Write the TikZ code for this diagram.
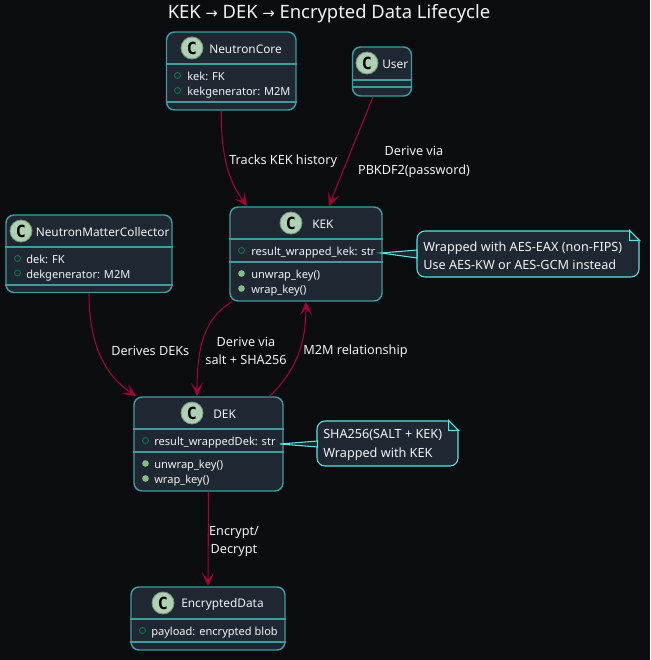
\documentclass[tikz,border=0pt]{standalone}
\usepackage{fontspec}
\setmainfont{Noto Sans}
\newfontfamily\spotfont{DejaVu Sans Mono}
\newfontfamily\arrowfont{DejaVu Sans}
\usetikzlibrary{arrows.meta,calc}
\definecolor{pagebg}{HTML}{0A0C10}
\definecolor{classfill}{HTML}{1F2733}
\definecolor{classline}{HTML}{3D9C9C}
\definecolor{notefill}{HTML}{1F2733}
\definecolor{noteline}{HTML}{5CE6E0}
\definecolor{linkred}{HTML}{A80036}
\definecolor{spotfill}{HTML}{ADD1B2}
\definecolor{fieldgreen}{HTML}{038048}
\definecolor{methodgreen}{HTML}{84BE84}
\definecolor{labeltext}{HTML}{F0F3F6}
\newcommand{\px}{0.75pt}
\newcommand{\rarrow}{{\arrowfont\fontsize{11}{16}\selectfont →}}
\tikzset{
	classbox/.style={draw=classline,fill=classfill,line width=1.1pt,rounded corners=6pt,inner sep=0pt},
	sepline/.style={draw=classline,line width=0.9pt},
	classname/.style={text=labeltext,font=\fontsize{8.9}{12}\selectfont,inner sep=0pt},
	spot/.style={circle,fill=spotfill,draw=spotfill!70!black,line width=0.6pt,minimum size=16.5pt,inner sep=0pt,text=black,font=\spotfont\bfseries\fontsize{12.5}{13}\selectfont},
	member/.style={anchor=base west,text=labeltext,font=\fontsize{8.3}{10}\selectfont,inner sep=0pt},
	fieldmark/.style={circle,draw=fieldgreen,line width=0.6pt,minimum size=4.5pt,inner sep=0pt},
	methodmark/.style={circle,fill=methodgreen,minimum size=5pt,inner sep=0pt},
	link/.style={draw=linkred,line width=0.8pt,-{Stealth[length=10pt,width=9pt,inset=5pt]}},
	linklabel/.style={text=labeltext,align=center,font=\fontsize{9.5}{13.8}\selectfont,inner sep=0pt},
	notebox/.style={draw=noteline,fill=notefill,line width=0.8pt,rounded corners=6pt,inner sep=0pt},
	notetext/.style={anchor=west,inner sep=0pt,align=left,text=labeltext,font=\fontsize{9.5}{13.8}\selectfont},
	noteedge/.style={draw=noteline,fill=notefill,line width=0.8pt}
}
\begin{document}
\begin{tikzpicture}[x=\px,y=-\px]
	\fill[pagebg] (0,0) rectangle (650,660);
	\useasboundingbox (0,0) rectangle (650,660);
	\node[text=labeltext,inner sep=0pt,font=\fontsize{13.8}{16}\selectfont] (title) at (329,13.5) {KEK \rarrow{} DEK \rarrow{} Encrypted Data Lifecycle};

	% class boxes
	\node[classbox,minimum width=129.5*\px,minimum height=78*\px] (core) at (231.25,71) {};
	\node[classbox,minimum width=59*\px,minimum height=49*\px] (user) at (382,71.5) {};
	\node[classbox,minimum width=152*\px,minimum height=94*\px] (kek) at (306,254) {};
	\node[classbox,minimum width=166*\px,minimum height=77.5*\px] (collector) at (89,253.75) {};
	\node[classbox,minimum width=149*\px,minimum height=94*\px] (dek) at (208.5,444) {};
	\node[classbox,minimum width=154*\px,minimum height=63*\px] (data) at (208,618.5) {};

	% compartment lines
	\draw[sepline] (core.west |- 0,64) -- (core.east |- 0,64);
	\draw[sepline] (core.west |- 0,102) -- (core.east |- 0,102);
	\draw[sepline] (user.west |- 0,80) -- (user.east |- 0,80);
	\draw[sepline] (user.west |- 0,87) -- (user.east |- 0,87);
	\draw[sepline] (kek.west |- 0,239) -- (kek.east |- 0,239);
	\draw[sepline] (kek.west |- 0,262) -- (kek.east |- 0,262);
	\draw[sepline] (collector.west |- 0,247) -- (collector.east |- 0,247);
	\draw[sepline] (collector.west |- 0,285) -- (collector.east |- 0,285);
	\draw[sepline] (dek.west |- 0,429) -- (dek.east |- 0,429);
	\draw[sepline] (dek.west |- 0,452) -- (dek.east |- 0,452);
	\draw[sepline] (data.west |- 0,619) -- (data.east |- 0,619);
	\draw[sepline] (data.west |- 0,642) -- (data.east |- 0,642);

	% headers
	\node[spot] (coreC) at (192,48) {C};
	\node[classname,anchor=west] (coreName) at (209,49) {NeutronCore};
	\node[spot] (userC) at (367,63) {C};
	\node[classname,anchor=west] (userName) at (382,64) {User};
	\node[spot] (kekC) at (291,223) {C};
	\node[classname,anchor=west] (kekName) at (312,224) {KEK};
	\node[spot] (collectorC) at (21,231) {C};
	\node[classname,anchor=west] (collectorName) at (35.5,232) {NeutronMatterCollector};
	\node[spot] (dekC) at (192,413) {C};
	\node[classname,anchor=west] (dekName) at (213,414) {DEK};
	\node[spot] (dataC) at (163,603) {C};
	\node[classname,anchor=west] (dataName) at (181,604) {EncryptedData};

	% members
	\node[fieldmark] (coreA) at (177.5,75.5) {};
	\node[member] (coreAtext) at (187,80) {kek: FK};
	\node[fieldmark] (coreB) at (177.5,90.5) {};
	\node[member] (coreBtext) at (187,95) {kekgenerator: M2M};
	\node[fieldmark] (kekA) at (241.5,250.5) {};
	\node[member] (kekAtext) at (251,255) {result\_wrapped\_kek: str};
	\node[methodmark] (kekB) at (241.5,273.5) {};
	\node[member] (kekBtext) at (251,278) {unwrap\_key()};
	\node[methodmark] (kekD) at (241.5,288.5) {};
	\node[member] (kekDtext) at (251,293) {wrap\_key()};
	\node[fieldmark] (collectorA) at (17.5,258.5) {};
	\node[member] (collectorAtext) at (26,263) {dek: FK};
	\node[fieldmark] (collectorB) at (17.5,273) {};
	\node[member] (collectorBtext) at (26,278) {dekgenerator: M2M};
	\node[fieldmark] (dekA) at (145.5,440.5) {};
	\node[member] (dekAtext) at (154,445) {result\_wrappedDek: str};
	\node[methodmark] (dekB) at (145.5,463.5) {};
	\node[member] (dekBtext) at (154,468) {unwrap\_key()};
	\node[methodmark] (dekD) at (145.5,478.5) {};
	\node[member] (dekDtext) at (154,483) {wrap\_key()};
	\node[fieldmark] (dataA) at (142.5,630.5) {};
	\node[member] (dataAtext) at (151,635) {payload: encrypted blob};

	% connectors
	\draw[link] ([xshift=-10*\px]core.south) .. controls (221,165) and (232,185) .. ([xshift=-59*\px]kek.north);
	\draw[link] ([xshift=-9*\px]user.south) .. controls (357,137) and (341,175) .. ([xshift=23*\px]kek.north);
	\draw[link] ([xshift=-74*\px]kek.south) .. controls (205,318) and (197,345) .. ([xshift=-11.5*\px]dek.north);
	\draw[link] ([xshift=61*\px]dek.north) .. controls (295,372) and (306,345) .. (kek.south);
	\draw[link] (collector.south) .. controls (89,345) and (105,375) .. ([xshift=-72.5*\px]dek.north);
	\draw[link] (dek.south) -- (data.north);

	% connector labels
	\node[linklabel,anchor=west] (trackLabel) at (229,161) {Tracks KEK history};
	\node[linklabel] (pbkdfLabel) at (414,162) {Derive via\\PBKDF2(password)};
	\node[linklabel] (saltLabel) at (246,351) {Derive via\\salt + SHA256};
	\node[linklabel,anchor=west] (m2mLabel) at (303,351) {M2M relationship};
	\node[linklabel,anchor=west] (derivesLabel) at (111,351) {Derives DEKs};
	\node[linklabel] (cryptLabel) at (234,541.5) {Encrypt/\\Decrypt};

	% notes
	\coordinate (kekTie) at (381,253);
	\coordinate (dekTie) at (280,444);
	\node[notebox,minimum width=222*\px,minimum height=46*\px] (kekNote) at (528,254) {};
	\draw[noteedge] (kekTie) -- (417,250) -- (417,258) -- cycle;
	\fill[notefill] (418,251) rectangle (419,257);
	\draw[draw=pagebg,fill=pagebg,line width=0.8pt] ($(kekNote.north east)+(-10,0)$) -- (kekNote.north east) -- ($(kekNote.north east)+(0,10)$) -- cycle;
	\draw[noteedge] ($(kekNote.north east)+(-10,0)$) -- ($(kekNote.north east)+(0,10)$) -- ($(kekNote.north east)+(-10,10)$) -- cycle;
	\node[notetext] (kekNoteText) at (423,255.5) {Wrapped with AES-EAX (non-FIPS)\\Use AES-KW or AES-GCM instead};
	\node[notebox,minimum width=141*\px,minimum height=45*\px] (dekNote) at (387.5,443.5) {};
	\draw[noteedge] (dekTie) -- (317.5,441) -- (317.5,447) -- cycle;
	\fill[notefill] (318,442) rectangle (319,446);
	\draw[draw=pagebg,fill=pagebg,line width=0.8pt] ($(dekNote.north east)+(-10,0)$) -- (dekNote.north east) -- ($(dekNote.north east)+(0,10)$) -- cycle;
	\draw[noteedge] ($(dekNote.north east)+(-10,0)$) -- ($(dekNote.north east)+(0,10)$) -- ($(dekNote.north east)+(-10,10)$) -- cycle;
	\node[notetext] (dekNoteText) at (323,445) {SHA256(SALT + KEK)\\Wrapped with KEK};
\end{tikzpicture}
\end{document}
